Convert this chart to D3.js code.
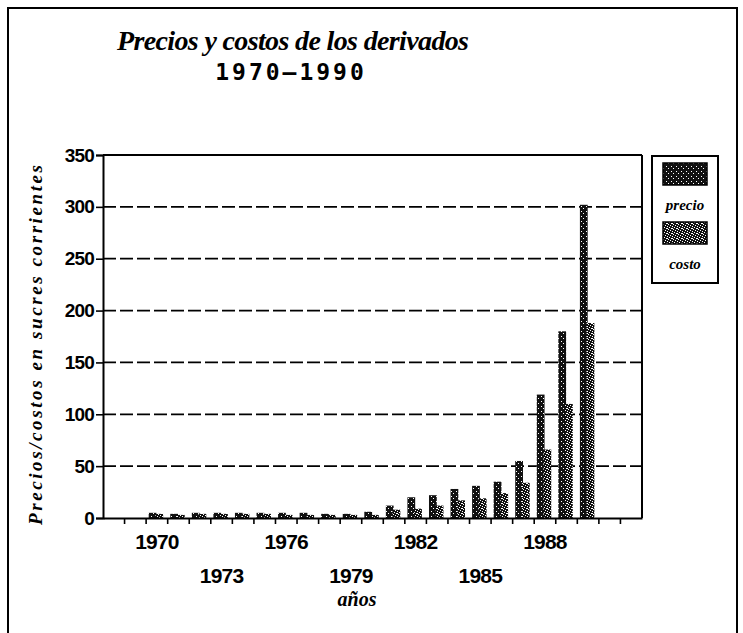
<!DOCTYPE html>
<html><head><meta charset="utf-8">
<script src="https://cdn.jsdelivr.net/npm/d3@7/dist/d3.min.js"></script>
<style>html,body{margin:0;padding:0;background:#fff;}svg{display:block;}</style>
</head><body>
<script>
// ---- data ----
const years = [1970,1971,1972,1973,1974,1975,1976,1977,1978,1979,1980,1981,1982,1983,1984,1985,1986,1987,1988,1989,1990];
const precio = [5,4,5,5,5,5,5,5,4,4,6,12,20,22,28,31,35,55,119,180,302];
const costo  = [4,3,4,4,4,4,3,3,3,3,3,8,9,12,17,19,24,34,66,110,188];
const axisYears = [1968,1969,1970,1971,1972,1973,1974,1975,1976,1977,1978,1979,1980,1981,1982,1983,1984,1985,1986,1987,1988,1989,1990,1991,1992];
const xLabelsRow1 = [1970,1976,1982,1988];
const xLabelsRow2 = [1973,1979,1985];
const yTicks = [0,50,100,150,200,250,300,350];
const seriesNames = ["precio","costo"];
const titleText = "Precios y costos de los derivados";
const subtitleText = "1970\u20131990";
const yTitle = "Precios/costos en sucres corrientes";
const xTitle = "años";

const W = 743, H = 633;
const L = 103, R = 642, T = 155, B = 518;

const svg = d3.select("body").append("svg").attr("width", W).attr("height", H);
const defs = svg.append("defs");

function speckle(id, dots) {
  const p = defs.append("pattern").attr("id", id).attr("patternUnits","userSpaceOnUse")
    .attr("width", 5).attr("height", 5);
  p.append("rect").attr("width",5).attr("height",5).attr("fill","#111");
  dots.forEach(d => p.append("rect").attr("x",d[0]).attr("y",d[1]).attr("width",1).attr("height",1).attr("fill","#fff"));
}
speckle("patPrecio", [[1,1],[3,3]]);
speckle("patCosto", [[0,0],[2,1],[4,2],[1,3],[3,4],[2,3]]);

// outer frame
svg.append("rect").attr("x",8).attr("y",8).attr("width",729).attr("height",640)
  .attr("fill","none").attr("stroke","#000").attr("stroke-width",2);

const x = d3.scaleBand().domain(axisYears).range([L, R]);
const y = d3.scaleLinear().domain([0, 350]).range([B, T]);
const bw = x.bandwidth();

// grid lines
svg.append("g").selectAll("line").data(yTicks.filter(v => v > 0 && v < 350)).join("line")
  .attr("x1", L).attr("x2", R).attr("y1", d => y(d)).attr("y2", d => y(d))
  .attr("stroke","#000").attr("stroke-width",1.8).attr("stroke-dasharray","13,4");

// plot border top & right
svg.append("line").attr("x1",L).attr("x2",R).attr("y1",y(350)).attr("y2",y(350)).attr("stroke","#000").attr("stroke-width",2);
svg.append("line").attr("x1",R).attr("x2",R).attr("y1",y(350)).attr("y2",B).attr("stroke","#000").attr("stroke-width",2);

// bars
const g = svg.append("g");
g.selectAll("rect.p").data(years).join("rect").attr("class","p")
  .attr("x", d => x(d) + bw*0.12).attr("width", bw*0.36)
  .attr("y", (d,i) => y(precio[i])).attr("height", (d,i) => B - y(precio[i]))
  .attr("fill","url(#patPrecio)");
g.selectAll("rect.c").data(years).join("rect").attr("class","c")
  .attr("x", d => x(d) + bw*0.43).attr("width", bw*0.36)
  .attr("y", (d,i) => y(costo[i])).attr("height", (d,i) => B - y(costo[i]))
  .attr("fill","url(#patCosto)");

// y axis
const ya = svg.append("g").attr("transform",`translate(${L},0)`)
  .call(d3.axisLeft(y).tickValues(yTicks).tickSize(7).tickPadding(2).tickFormat(d3.format("d")));
ya.select(".domain").attr("stroke-width",2);
ya.selectAll(".tick line").attr("stroke-width",1.6);
ya.selectAll("text").attr("font-family","Liberation Sans, Arial, sans-serif").attr("font-weight","bold")
  .attr("font-size",19).attr("fill","#000").attr("letter-spacing","-0.8");

// x axis
const xa = svg.append("g").attr("transform",`translate(0,${B})`)
  .call(d3.axisBottom(x).tickValues([]).tickSizeOuter(0));
xa.select(".domain").attr("stroke-width",2.2);
svg.append("g").selectAll("line").data(axisYears.slice(1)).join("line")
  .attr("x1", d => x(d)).attr("x2", d => x(d)).attr("y1", B).attr("y2", B+6)
  .attr("stroke","#000").attr("stroke-width",1.6);

const lblFont = "Liberation Sans, Arial, sans-serif";
svg.append("g").selectAll("text").data(xLabelsRow1).join("text")
  .attr("x", d => x(d) + bw/2).attr("y", 549).attr("text-anchor","middle")
  .attr("font-family", lblFont).attr("font-weight","bold").attr("font-size",21).attr("letter-spacing","-0.8")
  .text(d => d);
svg.append("g").selectAll("text").data(xLabelsRow2).join("text")
  .attr("x", d => x(d) + bw/2).attr("y", 583).attr("text-anchor","middle")
  .attr("font-family", lblFont).attr("font-weight","bold").attr("font-size",21).attr("letter-spacing","-0.8")
  .text(d => d);

// titles
svg.append("text").attr("x", 293).attr("y", 50).attr("text-anchor","middle")
  .attr("font-family","Liberation Serif, serif").attr("font-style","italic").attr("font-weight","bold")
  .attr("font-size",28).attr("textLength",352).attr("lengthAdjust","spacing").text(titleText);
svg.append("text").attr("x", 291).attr("y", 80).attr("text-anchor","middle")
  .attr("font-family","DejaVu Sans Mono, monospace").attr("font-weight","bold")
  .attr("font-size",23).attr("letter-spacing",3).text(subtitleText);

svg.append("text").attr("transform","translate(42,345) rotate(-90)").attr("text-anchor","middle")
  .attr("font-family","Liberation Serif, serif").attr("font-style","italic").attr("font-weight","bold")
  .attr("font-size",19).attr("textLength",360).attr("lengthAdjust","spacing").text(yTitle);
svg.append("text").attr("x", 357).attr("y", 606).attr("text-anchor","middle")
  .attr("font-family","Liberation Serif, serif").attr("font-style","italic").attr("font-weight","bold")
  .attr("font-size",20).text(xTitle);

// legend
const lg = svg.append("g");
lg.append("rect").attr("x",652).attr("y",156).attr("width",66).attr("height",127)
  .attr("fill","#fff").attr("stroke","#000").attr("stroke-width",2);
const pats = ["url(#patPrecio)","url(#patCosto)"];
seriesNames.forEach((n,i) => {
  lg.append("rect").attr("x",663).attr("y",163 + i*59).attr("width",44).attr("height",22)
    .attr("fill",pats[i]).attr("stroke","#000").attr("stroke-width",1.5);
  lg.append("text").attr("x",685).attr("y",210 + i*59).attr("text-anchor","middle")
    .attr("font-family","Liberation Serif, serif").attr("font-style","italic").attr("font-weight","bold")
    .attr("font-size",15).text(n);
});
</script>
</body></html>
